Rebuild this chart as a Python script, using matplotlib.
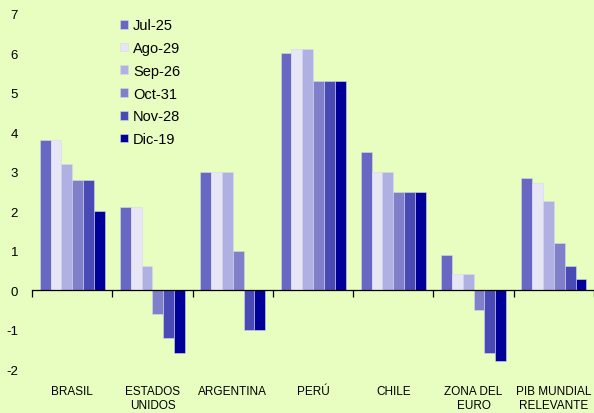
import numpy as np
import matplotlib
matplotlib.use("Agg")
import matplotlib.pyplot as plt
import matplotlib.transforms as mtransforms

plt.rcParams["font.family"] = ["Liberation Sans", "DejaVu Sans"]
plt.rcParams["axes.unicode_minus"] = False

categories = ["BRASIL", "ESTADOS\nUNIDOS", "ARGENTINA", "PERÚ", "CHILE",
              "ZONA DEL\nEURO", "PIB MUNDIAL\nRELEVANTE"]
series_labels = ["Jul-25", "Ago-29", "Sep-26", "Oct-31", "Nov-28", "Dic-19"]

jul_25 = [3.8, 2.1, 3.0, 6.0, 3.5, 0.9, 2.85]
ago_29 = [3.8, 2.1, 3.0, 6.1, 3.0, 0.4, 2.72]
sep_26 = [3.2, 0.6, 3.0, 6.1, 3.0, 0.4, 2.25]
oct_31 = [2.8, -0.6, 1.0, 5.3, 2.5, -0.5, 1.2]
nov_28 = [2.8, -1.2, -1.0, 5.3, 2.5, -1.6, 0.62]
dic_19 = [2.0, -1.6, -1.0, 5.3, 2.5, -1.8, 0.29]

colors = ["#6868C4", "#E6E6F6", "#B0B0E2", "#8080CA", "#4A4AB6", "#000099"]
bg = "#E8FDC0"

series = [jul_25, ago_29, sep_26, oct_31, nov_28, dic_19]

fig = plt.figure(figsize=(5.94, 4.14), dpi=100, facecolor=bg)
ax = fig.add_axes([0.054, 0.106, 0.946, 0.858], facecolor=bg)

x = np.arange(len(categories))
n = len(series)
w = 0.135
for i, (vals, lab, c) in enumerate(zip(series, series_labels, colors)):
    ax.bar(x + (i - (n - 1) / 2) * w, vals, width=w, color=c, label=lab,
           edgecolor="#D8D8EE", linewidth=0.4)

ax.set_xlim(-0.5, len(categories) - 0.5)
ax.set_ylim(-2, 7)
ax.set_yticks(range(-2, 8))
ax.tick_params(axis="y", length=0, labelsize=9.5, pad=10)

for s in ["top", "right", "left"]:
    ax.spines[s].set_visible(False)
ax.spines["bottom"].set_position(("data", 0))
ax.spines["bottom"].set_linewidth(0.9)
ax.set_xticks(np.arange(-0.5, len(categories), 1.0))
ax.set_xticklabels([])
ax.tick_params(axis="x", direction="out", length=5, width=0.9)

trans = mtransforms.blended_transform_factory(ax.transData, ax.transAxes)
for xi, cat in zip(x, categories):
    ax.text(xi, -0.045, cat, transform=trans, ha="center", va="top",
            fontsize=8.5, linespacing=1.25)

ax.legend(loc="upper left", bbox_to_anchor=(0.18, 0.985),
          bbox_transform=fig.transFigure, frameon=False, fontsize=10.5,
          handlelength=0.55, handleheight=0.55, handletextpad=0.35,
          labelspacing=0.6)

fig.savefig("out.png", dpi=100, facecolor=bg)
